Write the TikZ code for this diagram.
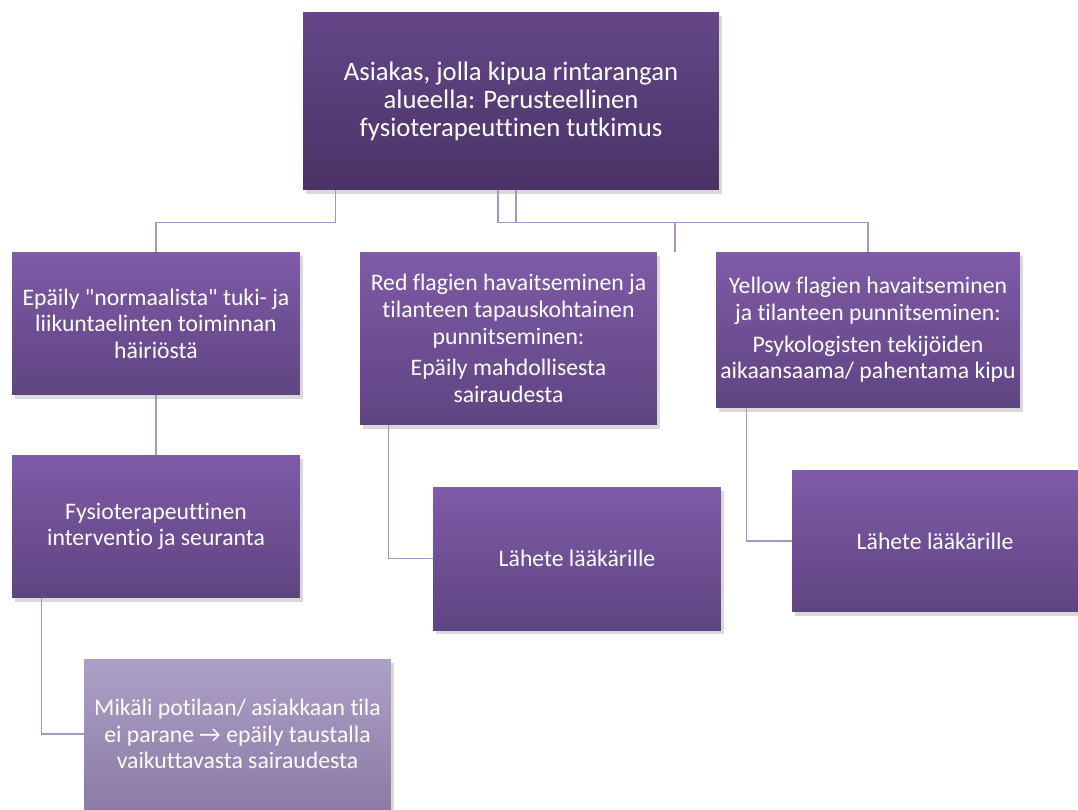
\documentclass[tikz,border=0pt]{standalone}
\usepackage{fontspec}
\setmainfont{Carlito}[Ligatures=NoCommon]
\usepackage{tikz}
\usetikzlibrary{positioning, shapes, shadows, calc}
\usepackage{xcolor}
\definecolor{boxtopcol}{HTML}{7F5BA7}
\definecolor{boxbotcol}{HTML}{5F4482}
\definecolor{headtopcol}{HTML}{654789}
\definecolor{headbotcol}{HTML}{4A3365}
\definecolor{softtopcol}{HTML}{ADA0C7}
\definecolor{softbotcol}{HTML}{8B7BA6}
\definecolor{linkcol}{HTML}{A596C6}

\begin{document}
\begin{tikzpicture}[x=0.02cm, y=-0.02cm,
  box/.style={rectangle, align=center, text=white, inner xsep=1pt, inner ysep=4pt,
    top color=boxtopcol, bottom color=boxbotcol,
    drop shadow={opacity=0.3, shadow xshift=0.6mm, shadow yshift=-0.8mm},
    font=\fontsize{13.5}{15.1}\selectfont},
  link/.style={draw=linkcol, line width=0.85pt}]
\useasboundingbox (0,0) rectangle (1078,809);

% Top
\node[box, top color=headtopcol, bottom color=headbotcol, minimum width=8.32cm, minimum height=3.56cm,
  font=\fontsize{15.2}{15.9}\selectfont] (top) at (511,101) {
Asiakas, jolla kipua rintarangan\\alueella: Perusteellinen\\fysioterapeuttinen tutkimus};

% Row 1
\node[box, minimum width=5.76cm, minimum height=2.86cm] (normal) at (156,323.5) {
Epäily \textquotedbl normaalista\textquotedbl{} tuki- ja\\liikuntaelinten toiminnan\\häiriöstä};
\node[box, minimum width=5.94cm, minimum height=3.46cm] (redflag) at (508.5,338.5) {
Red flagien havaitseminen ja\\tilanteen tapauskohtainen\\punnitseminen:\\[3pt]
Epäily mahdollisesta\\sairaudesta};
\node[box, minimum width=6.08cm, minimum height=3.12cm] (yellowflag) at (868,330) {
Yellow flagien havaitseminen\\ja tilanteen punnitseminen:\\[3pt]
Psykologisten tekijöiden\\aikaansaama/ pahentama kipu};

% Row 2
\node[box, minimum width=5.76cm, minimum height=2.86cm] (interv) at (156,526.5) {
Fysioterapeuttinen\\interventio ja seuranta};
\node[box, minimum width=5.76cm, minimum height=2.86cm] (refred) at (577,558.5) {
Lähete lääkärille};
\node[box, minimum width=5.72cm, minimum height=2.84cm] (refyellow) at (935,541) {
Lähete lääkärille};

% Row 3
\node[box, top color=softtopcol, bottom color=softbotcol, minimum width=6.14cm, minimum height=3.0cm] (worse) at (237.5,734) {
Mikäli potilaan/ asiakkaan tila\\ei parane → epäily taustalla\\vaikuttavasta sairaudesta};

% connectors
\draw[link] ([xshift=0.66cm]top.south west) -- ++(0,-0.64cm) -| (normal.north);
\draw[link] ([xshift=-0.26cm]top.south) -- ++(0,-0.64cm) coordinate (split) -| (yellowflag.north);
\draw[link] ([xshift=0.1cm]top.south) -- ++(0,-0.64cm);
\coordinate (stub) at (675,222);
\draw[link] (stub) -- (stub |- redflag.north);
\draw[link] (normal.south) -- (interv.north);
\draw[link] ([xshift=0.6cm]interv.south west) |- (worse.west);
\draw[link] ([xshift=0.58cm]redflag.south west) |- (refred.west);
\draw[link] ([xshift=0.62cm]yellowflag.south west) |- (refyellow.west);
\end{tikzpicture}
\end{document}
